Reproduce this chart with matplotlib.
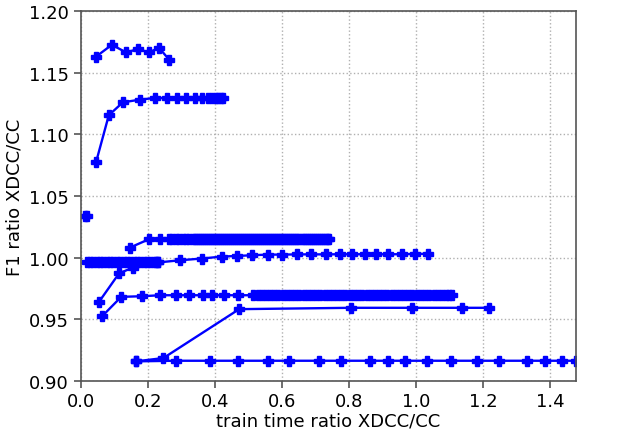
import matplotlib

matplotlib.use("Agg")
import matplotlib.pyplot as plt  # noqa: E402

# leituras aproximadas do grafico (razao de tempo de treino, razao de F1)
S1_X = [0.045, 0.093, 0.136, 0.171, 0.204, 0.234, 0.264]
S1_Y = [1.1630, 1.1728, 1.1666, 1.1694, 1.1666, 1.1704, 1.1607]

S2_X = [0.046, 0.084, 0.126, 0.178, 0.223, 0.259, 0.288, 0.314, 0.340, 0.362,
        0.379, 0.393, 0.403, 0.411, 0.420, 0.426]
S2_Y = [1.0775, 1.1156, 1.1261, 1.1283, 1.1297, 1.1295, 1.1295, 1.1295, 1.1295,
        1.1295, 1.1295, 1.1295, 1.1295, 1.1295, 1.1295, 1.1295]

S3_X = [0.014, 0.018]
S3_Y = [1.0337, 1.0337]

S4_X = [0.147, 0.203, 0.237, 0.264, 0.274, 0.284, 0.294, 0.304, 0.314, 0.324,
        0.334, 0.341, 0.347, 0.353, 0.359,
        0.365, 0.371, 0.377, 0.383, 0.389, 0.395, 0.401, 0.407, 0.413, 0.419,
        0.425, 0.431, 0.437, 0.443, 0.449, 0.455, 0.461, 0.467, 0.473, 0.479,
        0.485, 0.491, 0.497, 0.503, 0.509, 0.515, 0.521, 0.527, 0.533, 0.539,
        0.545, 0.551, 0.557, 0.563, 0.569, 0.575, 0.581, 0.587, 0.593, 0.599,
        0.605, 0.611, 0.617, 0.623, 0.629, 0.635, 0.641, 0.647, 0.653, 0.659,
        0.665, 0.671, 0.677, 0.683, 0.689, 0.695, 0.701, 0.707, 0.713, 0.719,
        0.725, 0.731, 0.737, 0.741]
S4_Y = [1.0081, 1.0148, 1.0148] + [1.0148] * 76

S5_X = [0.018, 0.028, 0.038, 0.048, 0.058, 0.068, 0.078, 0.088, 0.098, 0.108,
        0.118, 0.128, 0.138, 0.148, 0.158, 0.168, 0.178, 0.188, 0.198, 0.208,
        0.218, 0.226, 0.231]
S5_Y = [0.9960] * 23

S6_X = [0.0555, 0.115, 0.157, 0.230, 0.296, 0.361, 0.421, 0.467, 0.512, 0.558,
        0.602, 0.646, 0.687, 0.732, 0.774, 0.809, 0.847, 0.881, 0.918, 0.958,
        0.998, 1.036]
S6_Y = [0.9643, 0.9873, 0.9919, 0.9960, 0.9978, 0.9992, 1.0008, 1.0013, 1.0019,
        1.0024, 1.0024, 1.0026, 1.0026, 1.0026, 1.0027, 1.0027, 1.0027, 1.0027,
        1.0027, 1.0027, 1.0030, 1.0030]

S7_X = [0.0636, 0.121, 0.183, 0.237, 0.285, 0.323, 0.364, 0.392, 0.429, 0.470,
        0.515, 0.528, 0.540, 0.553, 0.565, 0.578, 0.590, 0.603, 0.615, 0.628,
        0.640, 0.653, 0.665, 0.678, 0.690, 0.703, 0.715, 0.728, 0.740, 0.753,
        0.765, 0.778, 0.790, 0.803, 0.815, 0.828, 0.840, 0.853, 0.865, 0.878,
        0.890, 0.903, 0.915, 0.928, 0.940, 0.953, 0.965, 0.978, 0.990, 1.003,
        1.015, 1.028, 1.040, 1.053, 1.065, 1.078, 1.090, 1.100, 1.107]
S7_Y = [0.9522, 0.9681, 0.9686, 0.9694] + [0.9694] * 55

S8_X = [0.165, 0.247, 0.473, 0.806, 0.988, 1.137, 1.219]
S8_Y = [0.9157, 0.9184, 0.9581, 0.9592, 0.9592, 0.9592, 0.9592]

S9_X = [0.165, 0.284, 0.386, 0.470, 0.558, 0.622, 0.710, 0.777, 0.864, 0.916,
        0.969, 1.034, 1.104, 1.182, 1.248, 1.331, 1.386, 1.436, 1.478]
S9_Y = [0.9157] + [0.9162] * 18

SERIES = [(S1_X, S1_Y), (S2_X, S2_Y), (S3_X, S3_Y), (S4_X, S4_Y), (S5_X, S5_Y),
          (S6_X, S6_Y), (S7_X, S7_Y), (S8_X, S8_Y), (S9_X, S9_Y)]

CINZA = "#555555"

plt.rcParams.update({"font.size": 13})
fig = plt.figure(figsize=(6.4, 4.31), dpi=100)
ax = fig.add_axes([0.126, 0.1144, 0.774, 0.857])

for xs, ys in SERIES:
    ax.plot(xs, ys, color="#0000ff", marker="P", markersize=7.5, lw=1.7)

ax.set_xlim(0, max(S9_X))
ax.set_ylim(0.90, 1.20)
ax.set_xticks([0.0, 0.2, 0.4, 0.6, 0.8, 1.0, 1.2, 1.4])
ax.set_yticks([0.90, 0.95, 1.00, 1.05, 1.10, 1.15, 1.20])
ax.set_yticklabels([f"{v:.2f}" for v in ax.get_yticks()])
ax.set_xticklabels([f"{v:.1f}" for v in ax.get_xticks()])
ax.grid(True, linestyle=":", color="#b0b0b0", lw=1.0)
for sp in ax.spines.values():
    sp.set_color(CINZA)
    sp.set_linewidth(1.2)
ax.tick_params(colors=CINZA, labelcolor="black", width=1.2, length=5)
ax.set_xlabel("train time ratio XDCC/CC", labelpad=1)
ax.set_ylabel("F1 ratio XDCC/CC")

fig.savefig("out.png", dpi=100)
